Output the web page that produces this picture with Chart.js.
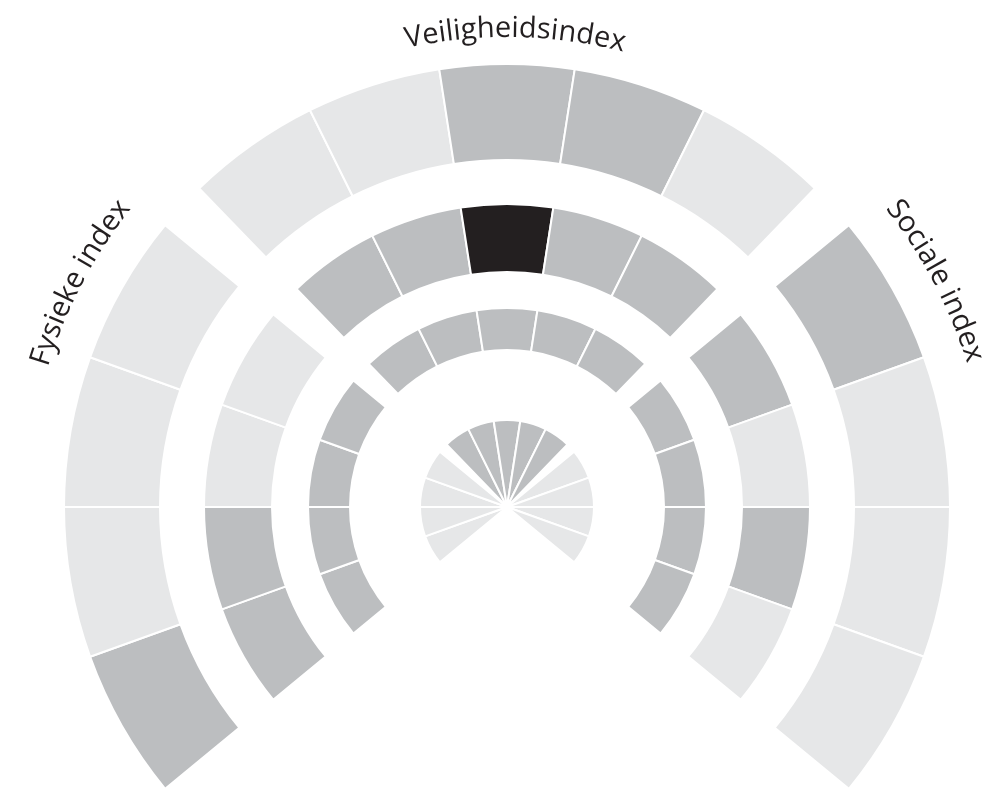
<!DOCTYPE html>
<html>
<head>
<meta charset="utf-8">
<title>Indexen</title>
<script src="https://cdn.jsdelivr.net/npm/chart.js@4.4.1/dist/chart.umd.min.js"></script>
<style>
  html, body { margin: 0; padding: 0; background: #fff; overflow: hidden; }
  #wrap { width: 992px; height: 789px; }
</style>
</head>
<body>
<div id="wrap"><canvas id="indexChart" width="992" height="789"></canvas></div>
<script>
// index groups, clockwise starting bottom-left
const groups = ['Fysieke index', 'Veiligheidsindex', 'Sociale index'];
const groupCounts = [4, 5, 4];

// score per cell (1 = laag, 2 = midden, 3 = hoog), clockwise, rings from outside in
const ring1 = [2, 1, 1, 1,  1, 1, 2, 2, 1,  2, 1, 1, 1];
const ring2 = [2, 2, 1, 1,  2, 2, 3, 2, 2,  2, 1, 2, 1];
const ring3 = [2, 2, 2, 2,  2, 2, 2, 2, 2,  2, 2, 2, 2];
const ring4 = [1, 1, 1, 1,  2, 2, 2, 2, 2,  1, 1, 1, 1];

const levelColors = { 1: '#e6e7e8', 2: '#bcbec0', 3: '#231f20' };

// layout (degrees / pixels)
const groupSpan = [79, 88, 79];
const groupGap = 6.5;
const startAngle = 230.5;
const outerRadius = 443;
const ringWidths = [96, 68, 42, 87];
const ringGaps = [44, 36, 70];
const labelAngles = [-62.3, 1, 62.2];
const labelRadii = [480, 470, 482];

function ringDataset(levels, width) {
  const data = [], colors = [], borders = [];
  const used = groupSpan.reduce((a, b) => a + b, 0) + groupGap * (groups.length - 1);
  let k = 0;
  groupCounts.forEach((n, g) => {
    for (let i = 0; i < n; i++) {
      data.push(groupSpan[g] / n);
      colors.push(levelColors[levels[k++]]);
      borders.push('#ffffff');
    }
    data.push(g < groups.length - 1 ? groupGap : 360 - used);
    colors.push('rgba(0,0,0,0)');
    borders.push('rgba(0,0,0,0)');
  });
  return { data, backgroundColor: colors, borderColor: borders, borderWidth: 2, weight: width };
}

function spacer(width) {
  return { data: [1], backgroundColor: 'rgba(0,0,0,0)', borderWidth: 0, weight: width };
}

const rings = [ring1, ring2, ring3, ring4];
const datasets = [];
rings.forEach((r, i) => {
  datasets.push(ringDataset(r, ringWidths[i]));
  if (i < ringGaps.length) datasets.push(spacer(ringGaps[i]));
});

function drawArcText(ctx, text, cx, cy, radius, centerDeg) {
  const chars = text.split('');
  const widths = chars.map(c => ctx.measureText(c).width);
  const total = widths.reduce((a, b) => a + b, 0);
  let ang = centerDeg * Math.PI / 180 - total / 2 / radius;
  chars.forEach((c, i) => {
    const a = ang + widths[i] / 2 / radius;
    ctx.save();
    ctx.translate(cx + radius * Math.sin(a), cy - radius * Math.cos(a));
    ctx.rotate(a);
    ctx.fillText(c, 0, 0);
    ctx.restore();
    ang += widths[i] / radius;
  });
}

const arcLabels = {
  id: 'arcLabels',
  afterDatasetsDraw(chart) {
    const arc = chart.getDatasetMeta(0).data[0];
    const ctx = chart.ctx;
    ctx.save();
    ctx.font = '29px "Open Sans"';
    ctx.fillStyle = '#231f20';
    ctx.textAlign = 'center';
    ctx.textBaseline = 'alphabetic';
    groups.forEach((g, i) => drawArcText(ctx, g, arc.x, arc.y, labelRadii[i], labelAngles[i]));
    ctx.restore();
  }
};

const ctx = document.getElementById('indexChart').getContext('2d');

const indexChart = new Chart(ctx, {
  type: 'doughnut',
  data: { datasets: datasets },
  options: {
    responsive: false,
    animation: false,
    events: [],
    rotation: startAngle,
    circumference: 360,
    cutout: 0,
    radius: outerRadius,
    layout: { padding: { left: 22, right: 0, top: 225, bottom: 0 } },
    datasets: { doughnut: { clip: false } },
    plugins: {
      legend: { display: false },
      tooltip: { enabled: false }
    }
  },
  plugins: [arcLabels]
});
</script>
</body>
</html>
